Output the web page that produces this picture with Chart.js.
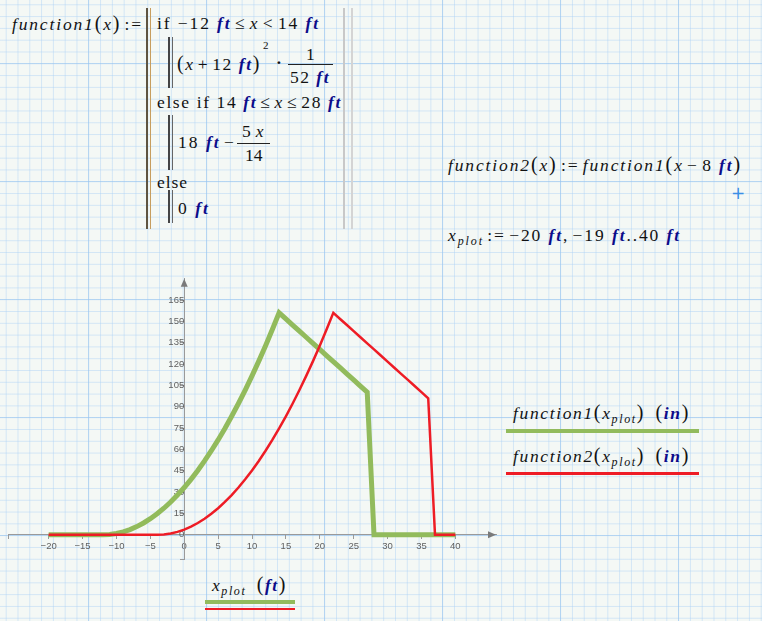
<!DOCTYPE html>
<html>
<head>
<meta charset="utf-8">
<script src="https://cdn.jsdelivr.net/npm/chart.js@4.4.1/dist/chart.umd.min.js"></script>
<style>
html,body{margin:0;padding:0;}
body{
  width:762px;height:621px;overflow:hidden;position:relative;
  background-color:#f4f8f5;
  background-image:
    linear-gradient(to right, rgba(150,195,240,0.55) 1px, transparent 1px),
    linear-gradient(to bottom, rgba(150,195,240,0.55) 1px, transparent 1px),
    linear-gradient(to right, rgba(170,208,245,0.45) 1px, transparent 1px),
    linear-gradient(to bottom, rgba(170,208,245,0.45) 1px, transparent 1px);
  background-size:118px 118px,118px 118px,11.8px 11.8px,11.8px 11.8px;
  background-position:88px 0,0 63px,5.7px 0,0 4.3px;
}
.m{position:absolute;font-family:"Liberation Serif","Times New Roman",serif;font-size:17.5px;color:#111;white-space:nowrap;line-height:22px;}
.v{font-style:italic;}
.u{font-weight:bold;font-style:italic;color:#0c0c8a;}
.sub{font-style:italic;font-size:12px;position:relative;top:4px;}
.p{font-size:20px;}
.bar{position:absolute;width:1.5px;}
.hl{position:absolute;}
#wrap{position:absolute;left:0;top:270px;width:510px;height:300px;}
</style>
</head>
<body>
<!-- program bars -->
<div class="bar" style="left:146px;top:8px;height:221px;background:#5f5441;"></div>
<div class="bar" style="left:149.5px;top:8px;height:221px;background:#c79d5e;"></div>
<div class="bar" style="left:343px;top:8px;height:221px;background:#c8c8c8;"></div>
<div class="bar" style="left:351px;top:8px;height:221px;background:#d4d4d4;"></div>
<div class="bar" style="left:168px;top:37px;height:51px;background:#444;"></div>
<div class="bar" style="left:171.5px;top:37px;height:51px;background:#666;"></div>
<div class="bar" style="left:168px;top:115px;height:55px;background:#444;"></div>
<div class="bar" style="left:171.5px;top:115px;height:55px;background:#666;"></div>
<div class="bar" style="left:168px;top:190px;height:33px;background:#444;"></div>
<div class="bar" style="left:171.5px;top:190px;height:33px;background:#666;"></div>

<div class="m" data-x="12" data-cy="23" data-w="131"><span class="v">function1</span><span class="p">(</span><span class="v">x</span><span class="p">)</span>&#8202;:=</div>
<div class="m" data-x="157" data-cy="23" data-w="163">if &#8722;12 <span class="u">ft</span>&#8202;&#8804;&#8202;<span class="v">x</span>&#8202;&lt;&#8202;14 <span class="u">ft</span></div>

<div class="m" data-x="177" data-cy="63" data-w="84"><span class="p">(</span><span class="v">x</span>&#8202;+&#8202;12 <span class="u">ft</span><span class="p">)</span></div>
<div class="m" data-x="263" data-cy="45" style="font-size:11px">2</div>
<div class="m" data-x="276" data-cy="62" style="font-weight:bold">&#183;</div>
<div class="m" data-x="306" data-cy="54">1</div>
<div class="hl" style="left:288px;top:63.5px;width:45px;height:1px;background:#222;"></div>
<div class="m" data-x="290" data-cy="77" data-w="40">52 <span class="u">ft</span></div>

<div class="m" data-x="157" data-cy="102" data-w="185">else if 14 <span class="u">ft</span>&#8202;&#8804;&#8202;<span class="v">x</span>&#8202;&#8804;&#8202;28 <span class="u">ft</span></div>

<div class="m" data-x="178" data-cy="142" data-w="58">18 <span class="u">ft</span>&#8202;&#8722;</div>
<div class="m" data-x="242" data-cy="131" data-w="22">5 <span class="v">x</span></div>
<div class="hl" style="left:237px;top:143px;width:33px;height:1px;background:#222;"></div>
<div class="m" data-x="245" data-cy="155">14</div>

<div class="m" data-x="157" data-cy="182" data-w="31">else</div>
<div class="m" data-x="178" data-cy="208" data-w="32">0 <span class="u">ft</span></div>

<div class="m" data-x="448" data-cy="164" data-w="294"><span class="v">function2</span><span class="p">(</span><span class="v">x</span><span class="p">)</span>&#8202;:=&#8202;<span class="v">function1</span><span class="p">(</span><span class="v">x</span>&#8202;&#8722;&#8202;8 <span class="u">ft</span><span class="p">)</span></div>
<div class="m" data-x="731" data-cy="193" style="font-family:'DejaVu Sans';font-size:17px;color:#3a8ee6;">+</div>

<div class="m" data-x="448" data-cy="236" data-w="233"><span class="v">x</span><span class="sub">plot</span>&#8202;:=&#8202;&#8722;20 <span class="u">ft</span>,&#8202;&#8722;19 <span class="u">ft</span>..40 <span class="u">ft</span></div>

<div class="m" data-x="513" data-cy="413" data-w="177"><span class="v">function1</span><span class="p">(</span><span class="v">x</span><span class="sub">plot</span><span class="p">)</span>&#8194;<span class="p">(</span><span class="u">in</span><span class="p">)</span></div>
<div class="hl" style="left:506px;top:428.5px;width:193px;height:4px;background:#92bb5c;"></div>
<div class="m" data-x="513" data-cy="456" data-w="177"><span class="v">function2</span><span class="p">(</span><span class="v">x</span><span class="sub">plot</span><span class="p">)</span>&#8194;<span class="p">(</span><span class="u">in</span><span class="p">)</span></div>
<div class="hl" style="left:506px;top:471.5px;width:193px;height:3px;background:#ee1c25;"></div>

<div class="m" data-x="212" data-cy="585" data-w="75"><span class="v">x</span><span class="sub">plot</span>&#8194;<span class="p">(</span><span class="u">ft</span><span class="p">)</span></div>
<div class="hl" style="left:205px;top:599.5px;width:90px;height:4px;background:#92bb5c;"></div>
<div class="hl" style="left:205px;top:607.5px;width:90px;height:2.5px;background:#ee1c25;"></div>

<div id="wrap"><canvas id="c" width="510" height="300"></canvas></div>

<script>
// ---- data (x in ft, values in inches) ----
const xPlot = [-20,-19,-18,-17,-16,-15,-14,-13,-12,-11,-10,-9,-8,-7,-6,-5,-4,-3,-2,-1,0,1,2,3,4,5,6,7,8,9,10,11,12,13,14,15,16,17,18,19,20,21,22,23,24,25,26,27,28,29,30,31,32,33,34,35,36,37,38,39,40];
const function1In = [0,0,0,0,0,0,0,0,0,0.23,0.92,2.08,3.69,5.77,8.31,11.31,14.77,18.69,23.08,27.92,33.23,39.00,45.23,51.92,59.08,66.69,74.77,83.31,92.31,101.77,111.69,122.08,132.92,144.23,156.00,151.71,147.43,143.14,138.86,134.57,130.29,126.00,121.71,117.43,113.14,108.86,104.57,100.29,0,0,0,0,0,0,0,0,0,0,0,0,0];
const function2In = [0,0,0,0,0,0,0,0,0,0,0,0,0,0,0,0,0,0.23,0.92,2.08,3.69,5.77,8.31,11.31,14.77,18.69,23.08,27.92,33.23,39.00,45.23,51.92,59.08,66.69,74.77,83.31,92.31,101.77,111.69,122.08,132.92,144.23,156.00,151.71,147.43,143.14,138.86,134.57,130.29,126.00,121.71,117.43,113.14,108.86,104.57,100.29,96.00,0,0,0,0];
const xTicks = [-20,-15,-10,-5,0,5,10,15,20,25,30,35,40];
const yTicks = [0,15,30,45,60,75,90,105,120,135,150,165];

// ---- text layout helper ----
document.querySelectorAll('.m').forEach(el=>{
  el.style.left = el.dataset.x + 'px';
  el.style.top = '0px';
  if (el.dataset.w) {
    const nw = el.getBoundingClientRect().width;
    const n = el.textContent.length;
    el.style.letterSpacing = ((+el.dataset.w - nw) / n) + 'px';
  }
  const h = el.getBoundingClientRect().height;
  el.style.top = (+el.dataset.cy - h/2) + 'px';
});

const fmt = v => v < 0 ? '\u2212' + Math.abs(v) : String(v);

const arrows = {
  id:'arrows',
  afterDraw(chart){
    const {ctx, chartArea:a, scales:{x,y}} = chart;
    const x0 = x.getPixelForValue(0), y0 = y.getPixelForValue(0);
    ctx.save();
    ctx.fillStyle = '#7a7a7a';
    ctx.beginPath();
    ctx.moveTo(a.right, y0); ctx.lineTo(a.right-8, y0-3.5); ctx.lineTo(a.right-8, y0+3.5); ctx.closePath(); ctx.fill();
    ctx.beginPath();
    ctx.moveTo(x0, a.top); ctx.lineTo(x0-3.5, a.top+8); ctx.lineTo(x0+3.5, a.top+8); ctx.closePath(); ctx.fill();
    ctx.restore();
  }
};

new Chart(document.getElementById('c'), {
  type:'line',
  data:{
    datasets:[
      {label:'function1', data:xPlot.map((v,i)=>({x:v,y:function1In[i]})), borderColor:'#92bb5c', borderWidth:5, pointRadius:0, tension:0, order:2, borderJoinStyle:'miter', fill:false},
      {label:'function2', data:xPlot.map((v,i)=>({x:v,y:function2In[i]})), borderColor:'#ee1c25', borderWidth:2.5, pointRadius:0, tension:0, order:1, borderJoinStyle:'miter', fill:false}
    ]
  },
  options:{
    responsive:false, animation:false, events:[],
    layout:{padding:{left:8,right:14,top:8.7,bottom:11}},
    plugins:{legend:{display:false}, tooltip:{enabled:false}},
    scales:{
      x:{type:'linear', min:-26, max:46, position:{y:0},
        afterBuildTicks:s=>{ s.ticks = [-26].concat(xTicks).map(v=>({value:v})); },
        ticks:{callback:v=> v===-26 ? '' : fmt(v), color:'#606060', font:{family:'Liberation Sans', size:9.5}, padding:2, maxRotation:0, autoSkip:false},
        grid:{drawOnChartArea:false, drawTicks:true, tickLength:4, color:'#9a9a9a'},
        border:{display:true, color:'#9a9a9a', width:1}
      },
      y:{type:'linear', min:-17, max:180, position:{x:0},
        afterBuildTicks:s=>{ s.ticks = [-17].concat(yTicks).map(v=>({value:v})); },
        ticks:{callback:v=> v===-17 ? '' : fmt(v), color:'#606060', font:{family:'Liberation Sans', size:9.5}, padding:2, autoSkip:false},
        grid:{drawOnChartArea:false, drawTicks:true, tickLength:4, color:'#9a9a9a'},
        border:{display:true, color:'#9a9a9a', width:1}
      }
    }
  },
  plugins:[arrows]
});
</script>
</body>
</html>
